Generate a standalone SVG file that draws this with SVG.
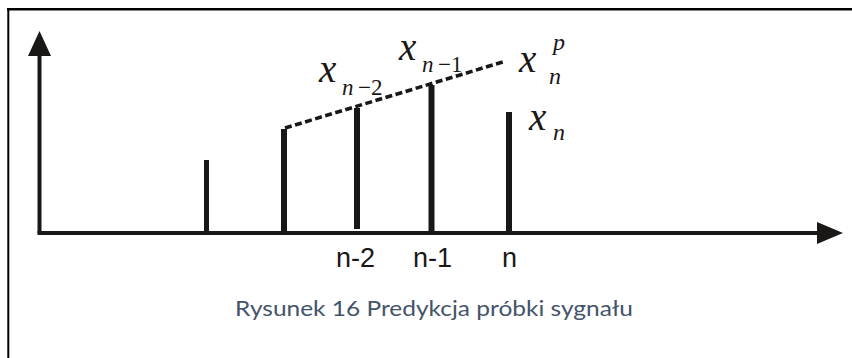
<svg xmlns="http://www.w3.org/2000/svg" width="852" height="358" viewBox="0 0 852 358">
<style>
.ax{stroke:#1a1717;stroke-width:4;fill:none}
.head{fill:#1a1717}
.stem{stroke:#1a1717;stroke-width:6;fill:none}
.dash{stroke:#1a1717;stroke-width:3.6;stroke-dasharray:7 3.5;fill:none}
.mx{font-family:"Liberation Serif","Times New Roman",serif;font-style:italic;fill:#1a1717}
.mu{font-family:"Liberation Serif","Times New Roman",serif;fill:#1a1717}
.tick{font-family:"Liberation Sans",Arial,sans-serif;font-size:27px;fill:#1a1717}
.cap{font-family:Lato,"Open Sans","Liberation Sans",sans-serif;font-size:21px;fill:#44546A}
</style>
<rect width="852" height="358" fill="#ffffff"/>
<g id="frame">
<line x1="7" y1="9.2" x2="852" y2="9.2" stroke="#000" stroke-width="2.6"/>
<line x1="8.3" y1="8" x2="8.3" y2="358" stroke="#000" stroke-width="2"/>
</g>
<g id="axes">
<line class="ax" x1="39.5" y1="50" x2="39.5" y2="233"/>
<line class="ax" x1="37.5" y1="233" x2="822" y2="233"/>
<polygon class="head" points="39.5,31 51,56 28,56"/>
<polygon class="head" points="843,233 817,222 817,244"/>
</g>
<g id="stems">
<line class="stem" x1="206.5" y1="160" x2="206.5" y2="233" style="stroke-width:5"/>
<line class="stem" x1="284" y1="129" x2="284" y2="233"/>
<line class="stem" x1="357" y1="108" x2="357" y2="229"/>
<line class="stem" x1="431.5" y1="85" x2="431.5" y2="233"/>
<line class="stem" x1="509" y1="112" x2="509" y2="233"/>
</g>
<g id="prediction">
<polyline class="dash" points="285,128 506,61"/>
</g>
<g id="label-xn2">
<text class="mx" x="319" y="82" font-size="39">x</text>
<text class="mx" x="342" y="95" font-size="23">n</text>
<text class="mu" x="358" y="95" font-size="23">−2</text>
</g>
<g id="label-xn1">
<text class="mx" x="399" y="60" font-size="39">x</text>
<text class="mx" x="422" y="72" font-size="23">n</text>
<text class="mu" x="438" y="72" font-size="23">−1</text>
</g>
<g id="label-xnp">
<text class="mx" x="519" y="72" font-size="39">x</text>
<text class="mx" x="549" y="84" font-size="24">n</text>
<text class="mx" x="553" y="50" font-size="24">p</text>
</g>
<g id="label-xn">
<text class="mx" x="529" y="130" font-size="39">x</text>
<text class="mx" x="553" y="140" font-size="24">n</text>
</g>
<g id="ticks">
<text class="tick" x="355.5" y="267" text-anchor="middle">n-2</text>
<text class="tick" x="432.5" y="267" text-anchor="middle">n-1</text>
<text class="tick" x="509.5" y="267" text-anchor="middle">n</text>
</g>
<text class="cap" x="434" y="315.5" text-anchor="middle" textLength="398" lengthAdjust="spacingAndGlyphs">Rysunek 16 Predykcja próbki sygnału</text>
</svg>
